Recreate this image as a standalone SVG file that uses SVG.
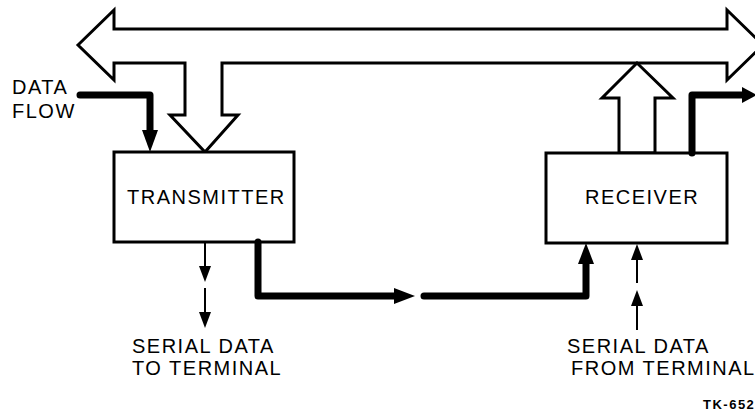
<svg xmlns="http://www.w3.org/2000/svg" width="755" height="420" viewBox="0 0 755 420">
  <style>
    .box { fill: #fff; stroke: #000; stroke-width: 3; stroke-linejoin: miter; }
    .bus { fill: #fff; stroke: #000; stroke-width: 3; stroke-linejoin: miter; }
    .thick { fill: none; stroke: #000; stroke-width: 7; stroke-linecap: round; stroke-linejoin: round; }
    .thin { fill: none; stroke: #000; stroke-width: 2; }
    .head { fill: #000; stroke: none; }
    .lbl { font-family: "Liberation Sans", Arial, sans-serif; font-size: 20px; letter-spacing: 1.5px; fill: #000; }
    .tag { font-family: "Liberation Sans", Arial, sans-serif; font-size: 13px; font-weight: bold; letter-spacing: 1.5px; fill: #000; }
  </style>
  <rect width="755" height="420" fill="#fff"/>

  <g id="bus">
    <polygon class="bus" points="78,45 114,10 114,29 727,29 727,10 763,45 727,80 727,63 222,63 222,115 238,115 205,152 170,115 185,115 185,63 114,63 114,80"/>
  </g>

  <g id="receiver-to-bus">
    <polygon class="bus" points="619,153 619,98 602,98 637,63 673,98 655,98 655,153"/>
  </g>

  <g id="transmitter">
    <rect class="box" x="114" y="152" width="180" height="90"/>
    <text class="lbl" x="127" y="204">TRANSMITTER</text>
  </g>

  <g id="receiver">
    <rect class="box" x="546" y="153" width="181" height="90"/>
    <text class="lbl" x="585" y="204">RECEIVER</text>
  </g>

  <g id="connectors">
    <path class="thick" d="M80,95 H150 V132"/>
    <polygon class="head" points="142,130 158,130 150,152"/>

    <path class="thick" d="M692,153 V95 H744"/>
    <polygon class="head" points="742,87 757,95 742,103"/>

    <path class="thick" d="M258,242 V296 H397"/>
    <polygon class="head" points="394,288 415,296 394,304"/>
    <path class="thick" d="M424,296 H586 V264"/>
    <polygon class="head" points="578,264 594,264 586,243"/>

    <path class="thin" d="M205,242 V268"/>
    <polygon class="head" points="199,266 211,266 205,282"/>
    <path class="thin" d="M205,288 V314"/>
    <polygon class="head" points="199,312 211,312 205,328"/>

    <path class="thin" d="M637,330 V305"/>
    <polygon class="head" points="631,306 643,306 637,290"/>
    <path class="thin" d="M637,283 V260"/>
    <polygon class="head" points="631,260 643,260 637,244"/>
  </g>

  <g id="labels">
    <text class="lbl" x="12" y="94">DATA</text>
    <text class="lbl" x="12" y="118">FLOW</text>
    <text class="lbl" x="132" y="353">SERIAL DATA</text>
    <text class="lbl" x="132" y="375">TO TERMINAL</text>
    <text class="lbl" x="567" y="353">SERIAL DATA</text>
    <text class="lbl" x="571" y="375">FROM TERMINAL</text>
    <text class="tag" x="703" y="409">TK-652</text>
  </g>
</svg>
